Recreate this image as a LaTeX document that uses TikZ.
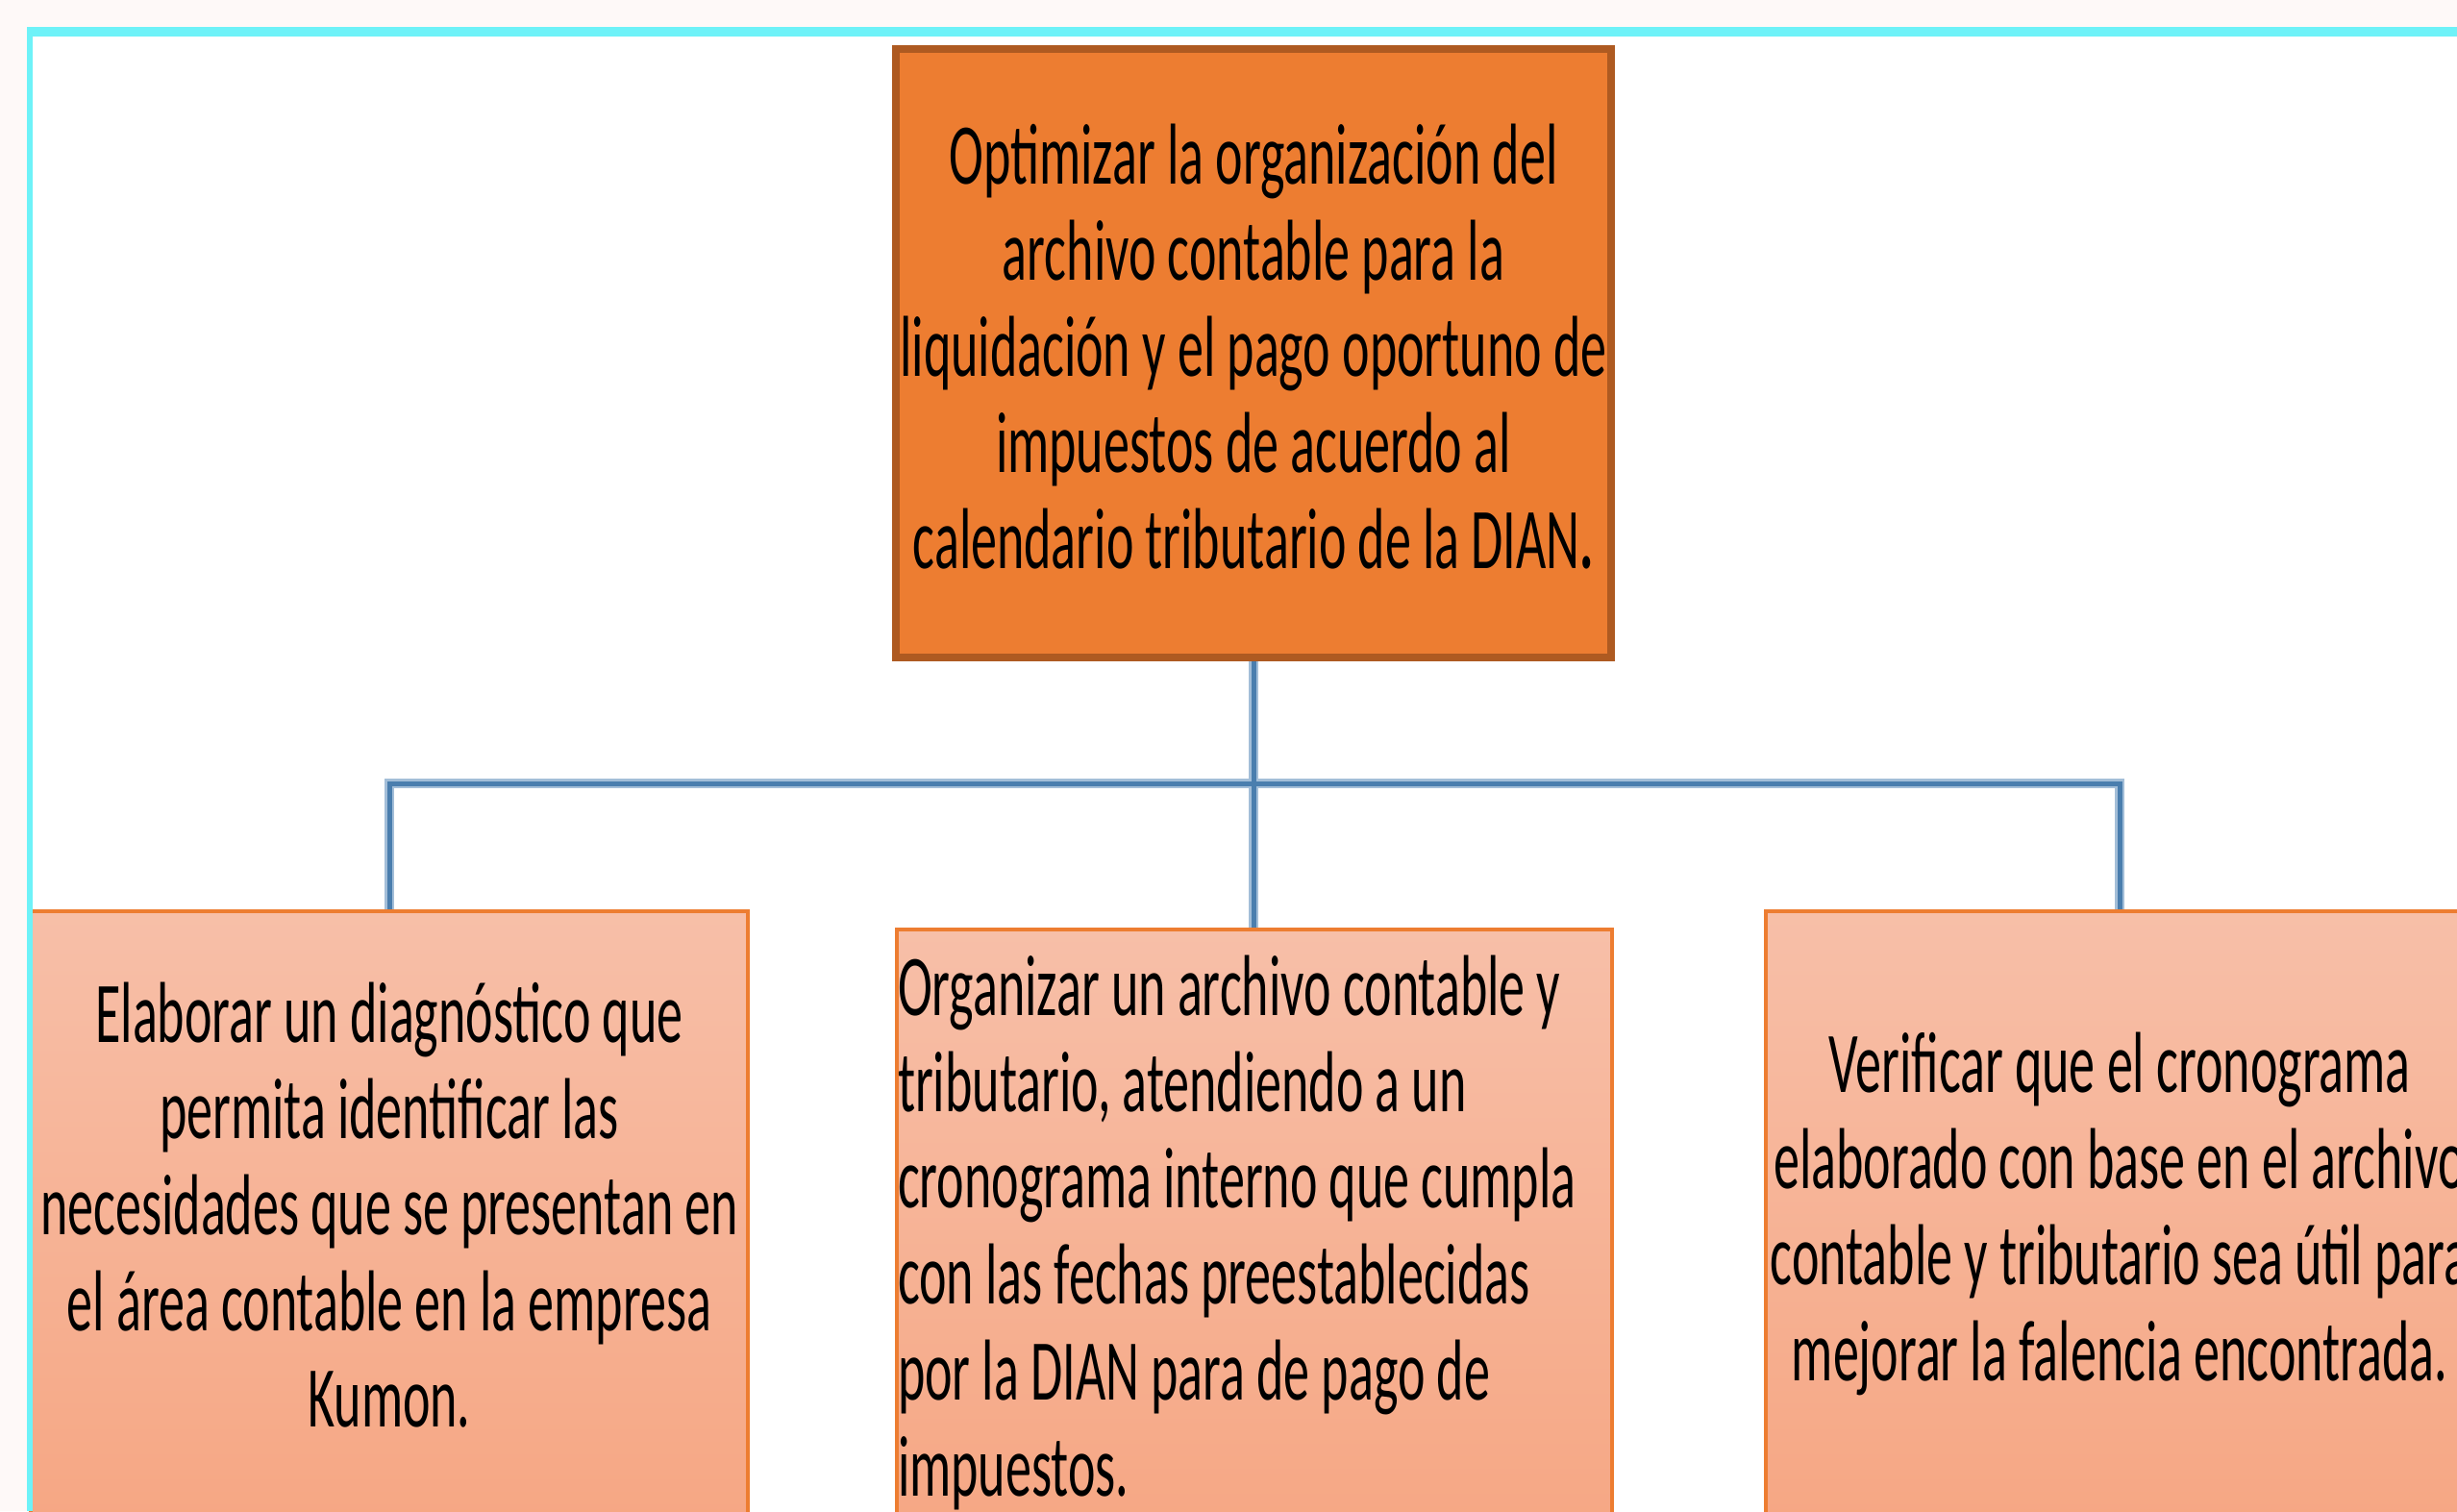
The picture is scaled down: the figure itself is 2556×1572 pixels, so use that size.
\documentclass[tikz,border=0pt]{standalone}
\usepackage{fontspec}
\newfontfamily\boxfont[FakeStretch=0.6]{Carlito}
\usetikzlibrary{backgrounds}
\definecolor{pagebg}{HTML}{FEF9F8}
\definecolor{cyanframe}{HTML}{6EF2F8}
\definecolor{mainfill}{HTML}{ED7D31}
\definecolor{maindraw}{HTML}{AE5A21}
\definecolor{subtop}{HTML}{F7BFA8}
\definecolor{subbot}{HTML}{F6A784}
\definecolor{subdraw}{HTML}{ED7D31}
\definecolor{linkdark}{HTML}{4A7EAE}
\definecolor{linklight}{HTML}{A3BED8}
\begin{document}
\begin{tikzpicture}[x=1pt,y=-1pt,
  every node/.style={inner sep=0pt, outer sep=0pt},
  boxtext/.style={font=\boxfont\fontsize{90}{100}\selectfont, text=black},
  mainbox/.style={boxtext, draw=maindraw, fill=mainfill, line width=8pt, align=center},
  subbox/.style={boxtext, draw=subdraw, line width=4.5pt, top color=subtop, bottom color=subbot},
  linkhalo/.style={draw=linklight, line width=10pt},
  link/.style={draw=linkdark, line width=5pt}]
\useasboundingbox (0,0) rectangle (2556,1572);

\node[mainbox, minimum width=744pt, minimum height=633pt, text depth=14pt] (top) at (1304,367.5)
  {Optimizar la organización del\\archivo contable para la\\liquidación y el pago oportuno de\\impuestos de acuerdo al\\calendario tributario de la DIAN\textbf{.}};

\node[subbox, align=center, minimum width=746pt, minimum height=630pt, text depth=20pt] (left) at (405,1263)
  {Elaborar un diagnóstico que\\permita identificar las\\necesidades que se presentan en\\el área contable en la empresa\\Kumon.};

\node[subbox, minimum width=744pt, minimum height=626pt] (mid) at (1305,1280) {};
\node[boxtext, align=left, anchor=north west] (midtext) at (934,994)
  {Organizar un archivo contable y\\tributario, atendiendo a un\\cronograma interno que cumpla\\con las fechas preestablecidas\\por la DIAN para de pago de\\impuestos.};

\node[subbox, align=center, minimum width=736pt, minimum height=630pt] (right) at (2205,1263)
  {Verificar que el cronograma\\elaborado con base en el archivo\\contable y tributario sea útil para\\mejorar la falencia encontrada.};

\coordinate (bus) at (1304,815);

\begin{scope}[on background layer]
  \fill[pagebg] (0,0) rectangle (2556,1572);
  \fill[white] (31,33) rectangle (2556,1572);
  \draw[linkhalo] (top.south) -- (top.south |- mid.north);
  \draw[linkhalo] (left.north) -- (left.north |- bus) -- (right.north |- bus) -- (right.north);
  \draw[link] (top.south) -- (top.south |- mid.north);
  \draw[link] (left.north) -- (left.north |- bus) -- (right.north |- bus) -- (right.north);
\end{scope}

\fill[cyanframe] (28,28) rectangle (2556,38);
\fill[cyanframe] (28,28) rectangle (34,1572);
\end{tikzpicture}
\end{document}
